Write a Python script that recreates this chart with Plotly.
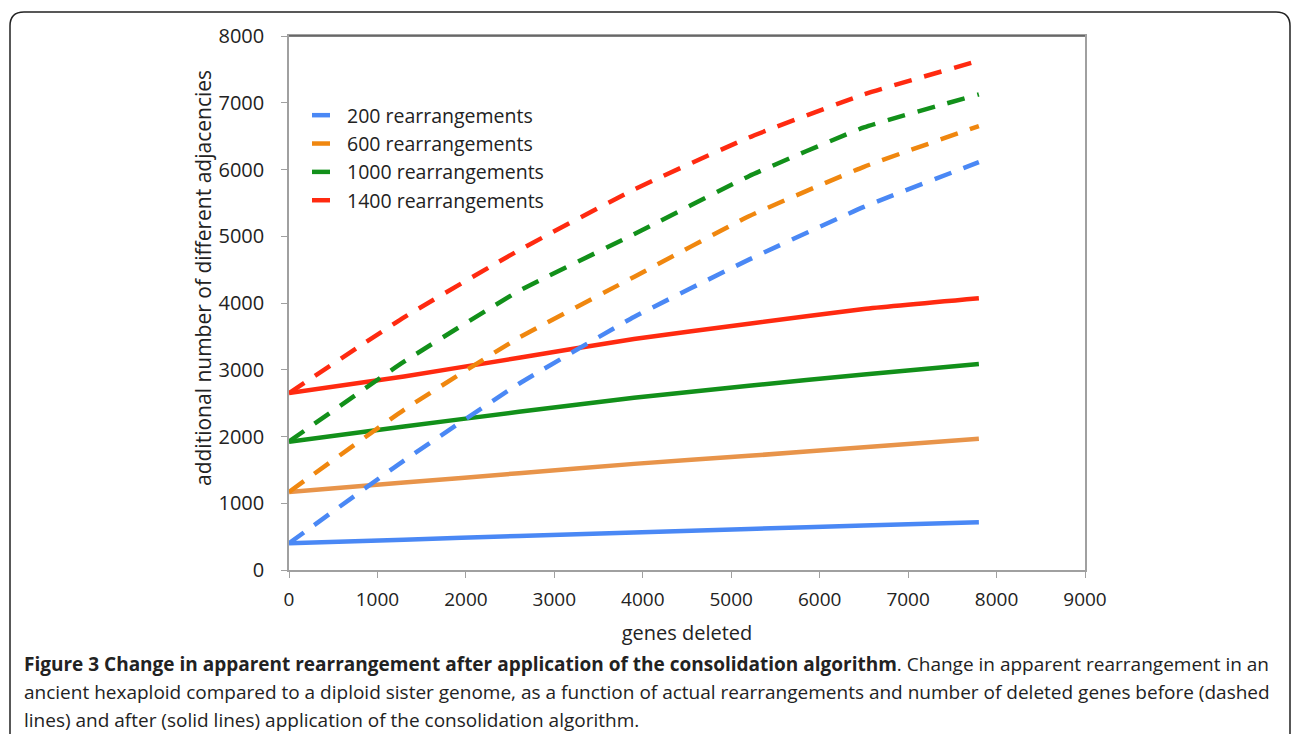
import plotly.graph_objects as go

genes_deleted = [0, 1300, 2600, 3900, 5200, 6500, 7800]
series_names = ["200 rearrangements", "600 rearrangements", "1000 rearrangements", "1400 rearrangements"]

# before consolidation (dashed)
before_200 = [400, 1640, 2790, 3790, 4650, 5440, 6110]
before_600 = [1170, 2400, 3480, 4390, 5300, 6040, 6650]
before_1000 = [1925, 3120, 4180, 5030, 5900, 6630, 7125]
before_1400 = [2650, 3785, 4790, 5700, 6480, 7125, 7630]

# after consolidation (solid)
after_200 = [400, 455, 510, 560, 615, 665, 715]
after_600 = [1170, 1310, 1450, 1590, 1710, 1840, 1965]
after_1000 = [1920, 2150, 2370, 2580, 2760, 2930, 3085]
after_1400 = [2650, 2900, 3180, 3460, 3690, 3910, 4070]

x_ticks = [0, 1000, 2000, 3000, 4000, 5000, 6000, 7000, 8000, 9000]
y_ticks = [0, 1000, 2000, 3000, 4000, 5000, 6000, 7000, 8000]

dash_colors = ["#4a88f5", "#f0870f", "#12901a", "#ff2a10"]
solid_colors = ["#4a88f5", "#e8944a", "#12901a", "#ff2a10"]

befores = [before_200, before_600, before_1000, before_1400]
afters = [after_200, after_600, after_1000, after_1400]

fig = go.Figure()
for name, ys, c in zip(series_names, afters, solid_colors):
    fig.add_trace(go.Scatter(x=genes_deleted, y=ys, mode="lines", name=name,
                             line=dict(color=c, width=4.5, shape="spline", smoothing=0.4),
                             showlegend=False, hoverinfo="skip"))
for name, ys, c in zip(series_names, befores, dash_colors):
    fig.add_trace(go.Scatter(x=genes_deleted, y=ys, mode="lines", name=name,
                             line=dict(color=c, width=4.5, dash="18px,13px", shape="spline", smoothing=0.4),
                             showlegend=True))

W, H = 1293, 734
L, R, T, B = 289, 1085, 36, 570

def px(x):
    return (x - L) / (R - L)

def py(y):
    return (B - y) / (B - T)

# outer rounded caption frame
r = 14
x0, x1, y0, y1 = 10, 1290, 12, 740
path = (f"M {px(x0)},{py(y1)} L {px(x0)},{py(y0 + r)} "
        f"Q {px(x0)},{py(y0)} {px(x0 + r)},{py(y0)} "
        f"L {px(x1 - r)},{py(y0)} Q {px(x1)},{py(y0)} {px(x1)},{py(y0 + r)} "
        f"L {px(x1)},{py(y1)}")
fig.add_shape(type="path", path=path, xref="paper", yref="paper",
              line=dict(color="#222222", width=1.5), layer="below")

# darker top border of the plot area
fig.add_shape(type="line", xref="paper", yref="paper", x0=0, x1=1, y0=1, y1=1,
              line=dict(color="#555555", width=1.5))

# y-axis title (placed as in the reference, slightly above plot centre)
fig.add_annotation(text="additional number of different adjacencies", xref="paper", yref="paper",
                   x=px(203), y=py(278), textangle=-90, showarrow=False,
                   xanchor="center", yanchor="middle",
                   font=dict(size=21, family="Open Sans, sans-serif", color="#222222"))

cap_font = "Open Sans, sans-serif"
caption_lines = [
    "<b>Figure 3 Change in apparent rearrangement after application of the consolidation algorithm</b>. Change in apparent rearrangement in an",
    "ancient hexaploid compared to a diploid sister genome, as a function of actual rearrangements and number of deleted genes before (dashed",
    "lines) and after (solid lines) application of the consolidation algorithm.",
]
for i, t in enumerate(caption_lines):
    fig.add_annotation(text=t, xref="paper", yref="paper", x=px(22), y=py(664 + 28 * i),
                       xanchor="left", yanchor="middle", showarrow=False,
                       font=dict(family=cap_font, size=19, color="#222222"))

fig.update_layout(
    width=W, height=H,
    margin=dict(l=L, r=W - R, t=T, b=H - B),
    paper_bgcolor="white", plot_bgcolor="white",
    font=dict(family="Open Sans, sans-serif", color="#222222"),
    legend=dict(x=px(307), y=py(96), xanchor="left", yanchor="top",
                bgcolor="rgba(0,0,0,0)", font=dict(size=19.5, family="Open Sans, sans-serif"),
                itemwidth=30, tracegroupgap=0),
    xaxis=dict(range=[0, 9000], tickvals=x_ticks, ticktext=[str(v) for v in x_ticks],
               showgrid=False, zeroline=False, showline=True, linecolor="#a0a0a0", linewidth=1.5,
               mirror=True, ticks="outside", ticklen=6, tickcolor="#a0a0a0",
               ticklabelstandoff=5,
               tickfont=dict(size=19, family="Open Sans, sans-serif"),
               title=dict(text="genes deleted", standoff=15,
                          font=dict(size=20, family="Open Sans, sans-serif"))),
    yaxis=dict(range=[0, 8000], tickvals=y_ticks, ticktext=[str(v) for v in y_ticks],
               showgrid=False, zeroline=False, showline=True, linecolor="#a0a0a0", linewidth=1.5,
               mirror=True, ticks="outside", ticklen=6, tickcolor="#a0a0a0",
               ticklabelstandoff=13,
               tickfont=dict(size=20, family="Open Sans, sans-serif")),
)

fig.write_html("out.html", config={"displayModeBar": False},
               post_script="document.body.style.margin='0';document.body.style.overflow='hidden';")
